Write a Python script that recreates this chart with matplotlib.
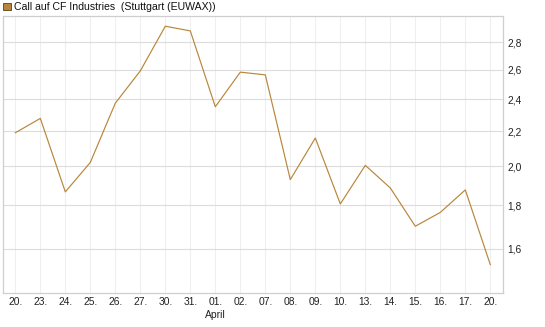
import matplotlib
matplotlib.use("Agg")
import matplotlib.pyplot as plt
from matplotlib.ticker import FixedLocator, FixedFormatter, NullLocator
from matplotlib.patches import Rectangle

dates = ["20.", "23.", "24.", "25.", "26.", "27.", "30.", "31.", "01.", "02.",
         "07.", "08.", "09.", "10.", "13.", "14.", "15.", "16.", "17.", "20."]
values = [2.191, 2.278, 1.867, 2.022, 2.374, 2.591, 2.924, 2.887, 2.351, 2.582,
          2.563, 1.930, 2.160, 1.807, 2.006, 1.887, 1.701, 1.766, 1.877, 1.533]
yticks = [1.6, 1.8, 2.0, 2.2, 2.4, 2.6, 2.8]
ytick_labels = ["1,6", "1,8", "2,0", "2,2", "2,4", "2,6", "2,8"]
month_label = "April"
month_index = 8
title = "Call auf CF Industries  (Stuttgart (EUWAX))"

line_color = "#b8863b"
plt.rcParams['font.family'] = ['Liberation Sans', 'DejaVu Sans']

fig = plt.figure(figsize=(5.45, 3.27), dpi=100)
W, H = 545, 327
ax = fig.add_axes([2.7 / W, 1 - 292.8 / H, (503.3 - 2.7) / W, (292.8 - 16) / H])

x = list(range(len(values)))
ax.plot(x, values, color=line_color, lw=0.85, zorder=3)

ax.set_yscale('log')
ax.set_ylim(1.4205, 3.006)
ax.set_xlim(-0.505, len(values) - 1 + 0.52)
ax.yaxis.set_major_locator(FixedLocator(yticks))
ax.yaxis.set_major_formatter(FixedFormatter(ytick_labels))
ax.yaxis.set_minor_locator(NullLocator())
ax.yaxis.tick_right()
ax.set_xticks(x)
ax.set_xticklabels(dates)

ax.tick_params(axis='both', length=0, labelsize=7.4, colors='#222222')
ax.tick_params(axis='y', pad=3)
ax.tick_params(axis='x', pad=3)

for yt in yticks:
    ax.axhline(yt, color='#dcdcdc', lw=0.8, zorder=1)
for xi in x:
    ax.axvline(xi, color='#efefef', lw=0.8, zorder=0)

for s in ax.spines.values():
    s.set_color('#cfcfcf')
    s.set_linewidth(0.9)

fig.text((2.7 + (month_index + 0.505) * 25.0) / W, 1 - 309.5 / H, month_label,
         ha='center', va='top', fontsize=7.4, color='#222222')

# legend-like title
fig.patches.append(Rectangle((3 / W, 1 - 10 / H), 7.5 / W, 7.5 / H,
                             transform=fig.transFigure, facecolor=line_color,
                             edgecolor='#5a3e1a', lw=0.6))
fig.text(14.5 / W, 1 - 6.5 / H, title, ha='left', va='center', fontsize=7.6,
         color='#111111')

fig.savefig("out.png", dpi=100)
